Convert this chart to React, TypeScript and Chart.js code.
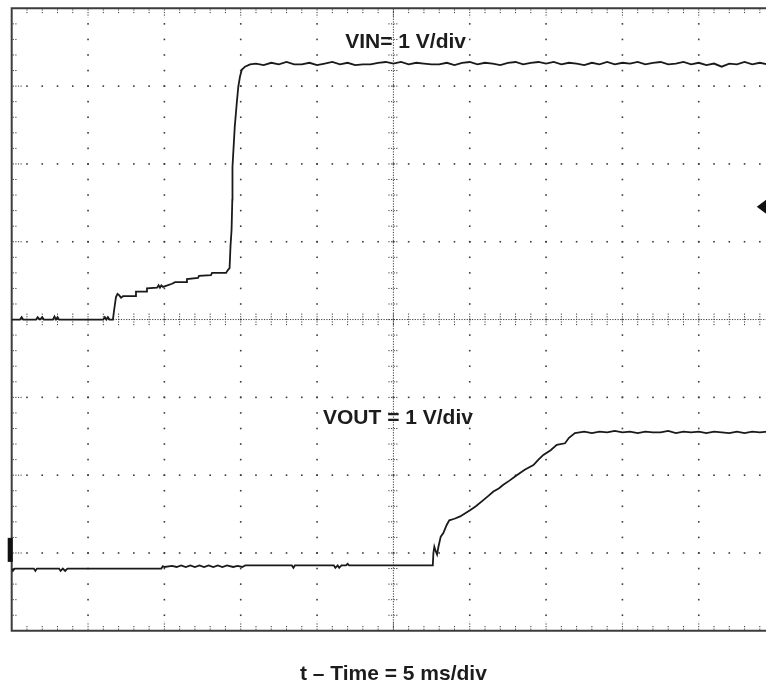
import React, { useEffect, useRef } from "react";
import { Chart, registerables } from "chart.js";

Chart.register(...registerables);

// Oscilloscope screen: time in ms (5 ms/div, 10 div), vertical in screen divisions (1 V/div, 8 div)
const X_MIN = 0;
const X_MAX = 50;
const Y_MIN = 0;
const Y_MAX = 8;
const X_MAJOR_TICKS = [5, 10, 15, 20, 25, 30, 35, 40, 45];
const Y_MAJOR_TICKS = [1, 2, 3, 4, 5, 6, 7];

const VIN_LABEL = "VIN= 1 V/div";
const VOUT_LABEL = "VOUT = 1 V/div";
const X_TITLE = "t \u2013 Time = 5 ms/div";

// VIN trace (time ms, screen div)
const vinTime = [
  0, 0.55, 0.65, 0.75, 1.6, 1.7, 1.85, 2.0, 2.1, 2.7, 2.8, 2.9, 3.0, 3.1, 6.0, 6.1, 6.2, 6.3, 6.4,
  6.63, 6.7, 6.83, 6.93, 7.05, 7.16, 7.29, 8.08, 8.14, 8.8, 8.86, 9.52, 9.62, 9.71, 9.8, 9.91,
  10.5, 10.7, 11.42, 11.48, 12.2, 12.27, 13.05, 13.12, 14.04, 14.17, 14.27, 14.33, 14.4, 14.45,
  14.46, 14.61, 14.74, 14.84, 14.95, 15.07, 15.28, 15.61,
  16.0, 16.5, 17.0, 17.5, 18.0, 18.5, 19.0, 19.5, 20.0, 20.5, 21.0, 21.5, 22.0, 22.5, 23.0, 23.5,
  24.0, 24.5, 25.0, 25.5, 26.0, 26.5, 27.0, 27.5, 28.0, 28.5, 29.0, 29.5, 30.0, 30.5, 31.0, 31.5,
  32.0, 32.5, 33.0, 33.5, 34.0, 34.5, 35.0, 35.5, 36.0, 36.5, 37.0, 37.5, 38.0, 38.5, 39.0, 39.5,
  40.0, 40.5, 41.0, 41.5, 42.0, 42.5, 43.0, 43.5, 44.0, 44.5, 45.0, 45.5, 46.0, 46.5, 47.0, 47.5,
  48.0, 48.5, 49.0, 49.5, 50.0,
];
const vinLevel = [
  4.0, 4.0, 4.03, 4.0, 4.0, 4.03, 4.0, 4.03, 4.0, 4.0, 4.04, 4.0, 4.03, 4.0, 4.0, 4.03, 4.0, 4.03, 4.0,
  4.0, 4.11, 4.29, 4.33, 4.31, 4.28, 4.3, 4.3, 4.36, 4.36, 4.4, 4.41, 4.44, 4.41, 4.44, 4.42,
  4.46, 4.48, 4.48, 4.52, 4.535, 4.56, 4.57, 4.6, 4.6, 4.64, 4.66, 4.94, 5.15, 5.54,
  5.96, 6.48, 6.78, 6.99, 7.12, 7.21, 7.25, 7.28,
  7.29, 7.27, 7.3, 7.28, 7.31, 7.28, 7.28, 7.3, 7.27, 7.29, 7.31, 7.28, 7.3, 7.27, 7.28, 7.28,
  7.3, 7.31, 7.29, 7.31, 7.28, 7.3, 7.29, 7.28, 7.28, 7.3, 7.27, 7.3, 7.31, 7.28, 7.3, 7.29,
  7.27, 7.3, 7.31, 7.28, 7.3, 7.31, 7.29, 7.31, 7.28, 7.3, 7.29, 7.27, 7.3, 7.28, 7.31, 7.28,
  7.3, 7.29, 7.31, 7.28, 7.3, 7.31, 7.28, 7.29, 7.31, 7.28, 7.3, 7.27, 7.29, 7.25, 7.29, 7.28,
  7.31, 7.28, 7.3, 7.28, 7.29,
];

// VOUT trace (time ms, screen div)
const voutTime = [
  0, 0.08, 0.2, 1.45, 1.55, 1.65, 3.1, 3.2, 3.35, 3.5, 3.65, 9.8, 9.9, 10.0, 10.5, 10.8, 11.1, 11.4,
  11.7, 12.0, 12.3, 12.6, 12.9, 13.2, 13.5, 13.8, 14.1, 14.5, 14.8, 15.1, 15.3, 18.35, 18.45, 18.55,
  21.1, 21.2, 21.35, 21.45, 21.6, 21.9, 22.0, 22.1, 27.58, 27.62, 27.68, 27.78, 27.86, 27.95, 28.1,
  28.27, 28.49, 28.66, 29.0, 29.37, 30.02, 30.4, 30.89, 31.2, 31.55, 31.9, 32.2, 32.6, 33.08, 33.6,
  34.17, 34.5, 34.82, 35.3, 35.7, 36.24, 36.5, 36.89,
  37.5, 38.0, 38.5, 39.0, 39.5, 40.0, 40.5, 41.0, 41.5, 42.0, 42.5, 43.0, 43.5, 44.0, 44.5, 45.0,
  45.5, 46.0, 46.5, 47.0, 47.5, 48.0, 48.5, 49.0, 49.5, 50.0,
];
const voutLevel = [
  0.8, 0.77, 0.8, 0.8, 0.77, 0.8, 0.8, 0.77, 0.8, 0.77, 0.8, 0.8, 0.83, 0.82, 0.835, 0.82, 0.84, 0.82,
  0.84, 0.82, 0.84, 0.82, 0.84, 0.82, 0.84, 0.82, 0.84, 0.82, 0.835, 0.82, 0.84, 0.84, 0.81, 0.84,
  0.84, 0.81, 0.84, 0.81, 0.84, 0.84, 0.86, 0.84, 0.84, 1.0, 1.08, 1.02, 0.98, 1.08, 1.21,
  1.255, 1.36, 1.42, 1.44, 1.47, 1.55, 1.6, 1.68, 1.73, 1.79, 1.83, 1.876, 1.93, 2.0, 2.07,
  2.13, 2.2, 2.26, 2.32, 2.39, 2.41, 2.48, 2.54,
  2.56, 2.54, 2.56, 2.55, 2.57, 2.55, 2.56, 2.54, 2.56, 2.55, 2.55, 2.57, 2.54, 2.56, 2.55, 2.56,
  2.54, 2.56, 2.55, 2.54, 2.56, 2.54, 2.56, 2.55, 2.56, 2.55,
];

const TRACE_COLOR = "#1a1a1a";
const GRID_COLOR = "#3a3a3a";
const FONT_FAMILY = "'Liberation Sans', Arial, Helvetica, sans-serif";

const scopePlugin = {
  id: "scopeGrid",
  beforeDatasetsDraw(chart: any) {
    const { ctx, chartArea: a, scales } = chart;
    const xs = scales.x;
    const ys = scales.y;
    const X = (v: number) => xs.getPixelForValue(v);
    const Y = (v: number) => ys.getPixelForValue(v);
    ctx.save();
    ctx.fillStyle = GRID_COLOR;
    const dot = (px: number, py: number) => ctx.fillRect(px - 0.8, py - 0.8, 1.6, 1.6);

    // major grid as dots at every minor subdivision
    for (const t of X_MAJOR_TICKS) {
      if (t === 25) continue;
      for (let j = 1; j < 40; j++) dot(X(t), Y(j * 0.2));
    }
    for (const v of Y_MAJOR_TICKS) {
      if (v === 4) continue;
      for (let i = 1; i < 50; i++) dot(X(i), Y(v));
    }

    ctx.strokeStyle = GRID_COLOR;
    ctx.lineWidth = 1;
    ctx.setLineDash([1.2, 1.4]);
    const seg = (x1: number, y1: number, x2: number, y2: number) => {
      ctx.beginPath();
      ctx.moveTo(x1, y1);
      ctx.lineTo(x2, y2);
      ctx.stroke();
    };

    // centre lines (dense dotted) with cross ticks
    const cx = X(25);
    const cy = Y(4);
    seg(cx, a.top, cx, a.bottom);
    seg(a.left, cy, a.right, cy);
    for (let j = 1; j < 40; j++) seg(cx - 5, Y(j * 0.2), cx + 5, Y(j * 0.2));
    for (let i = 1; i < 50; i++) seg(X(i), cy - 6, X(i), cy + 6);

    // border ticks
    for (let i = 1; i < 50; i++) {
      const len = i % 5 === 0 ? 9 : 5;
      seg(X(i), a.top + 1, X(i), a.top + len);
      seg(X(i), a.bottom - 1, X(i), a.bottom - len);
    }
    for (let j = 1; j < 40; j++) {
      const len = j % 5 === 0 ? 10 : 5;
      seg(a.left + 1, Y(j * 0.2), a.left + len, Y(j * 0.2));
    }
    ctx.setLineDash([]);

    // frame
    ctx.strokeStyle = "#3c3c3c";
    ctx.lineWidth = 2;
    ctx.beginPath();
    ctx.moveTo(a.right, a.top);
    ctx.lineTo(a.left, a.top);
    ctx.lineTo(a.left, a.bottom);
    ctx.lineTo(a.right, a.bottom);
    ctx.stroke();
    ctx.restore();
  },
  afterDatasetsDraw(chart: any) {
    const { ctx, chartArea: a, scales } = chart;
    const xs = scales.x;
    const ys = scales.y;
    ctx.save();
    ctx.fillStyle = "#1c1c1c";
    ctx.font = `bold 21px ${FONT_FAMILY}`;
    ctx.textAlign = "center";
    ctx.textBaseline = "alphabetic";
    ctx.fillText(VIN_LABEL, xs.getPixelForValue(25.8), ys.getPixelForValue(7.49));
    ctx.fillText(VOUT_LABEL, xs.getPixelForValue(25.3), ys.getPixelForValue(2.66));

    // channel ground marker on the left edge
    const gy = ys.getPixelForValue(1.04);
    ctx.fillStyle = "#111";
    ctx.fillRect(a.left - 4, gy - 12, 5, 24);
    // trigger level marker on the right
    const ty = ys.getPixelForValue(5.45);
    const tx = xs.getPixelForValue(48.8);
    ctx.beginPath();
    ctx.moveTo(tx, ty);
    ctx.lineTo(tx + 12, ty - 9);
    ctx.lineTo(tx + 12, ty + 9);
    ctx.closePath();
    ctx.fill();
    ctx.restore();
  },
};

export default function App() {
  const canvasRef = useRef<HTMLCanvasElement | null>(null);

  useEffect(() => {
    const canvas = canvasRef.current;
    if (!canvas) return;
    const vinData = vinTime.map((t, i) => ({ x: t, y: vinLevel[i] }));
    const voutData = voutTime.map((t, i) => ({ x: t, y: voutLevel[i] }));
    const chart = new Chart(canvas, {
      type: "line",
      data: {
        datasets: [
          {
            label: "VIN",
            data: vinData,
            borderColor: TRACE_COLOR,
            borderWidth: 1.8,
            pointRadius: 0,
            tension: 0,
            fill: false,
          },
          {
            label: "VOUT",
            data: voutData,
            borderColor: TRACE_COLOR,
            borderWidth: 1.8,
            pointRadius: 0,
            tension: 0,
            fill: false,
          },
        ],
      },
      options: {
        animation: false,
        responsive: false,
        devicePixelRatio: 1,
        events: [],
        layout: { padding: { left: 11.7, right: 14.9, top: 8.3, bottom: 0 } },
        scales: {
          x: {
            type: "linear",
            min: X_MIN,
            max: X_MAX,
            display: true,
            grid: { display: false, drawTicks: false, tickLength: 0 },
            border: { display: false },
            ticks: { display: false },
            title: {
              display: true,
              text: X_TITLE,
              color: "#1c1c1c",
              font: { family: FONT_FAMILY, size: 21, weight: "bold" },
              padding: { top: 31, bottom: 2 },
            },
          },
          y: {
            type: "linear",
            min: Y_MIN,
            max: Y_MAX,
            display: false,
          },
        },
        plugins: {
          legend: { display: false },
          tooltip: { enabled: false },
        },
      },
      plugins: [scopePlugin],
    });
    return () => chart.destroy();
  }, []);

  return (
    <div
      style={{
        position: "absolute",
        left: 0,
        top: 0,
        width: 766,
        height: 689,
        overflow: "hidden",
        background: "#fff",
      }}
    >
      <canvas ref={canvasRef} width={790} height={689} style={{ width: 790, height: 689, display: "block" }} />
    </div>
  );
}
